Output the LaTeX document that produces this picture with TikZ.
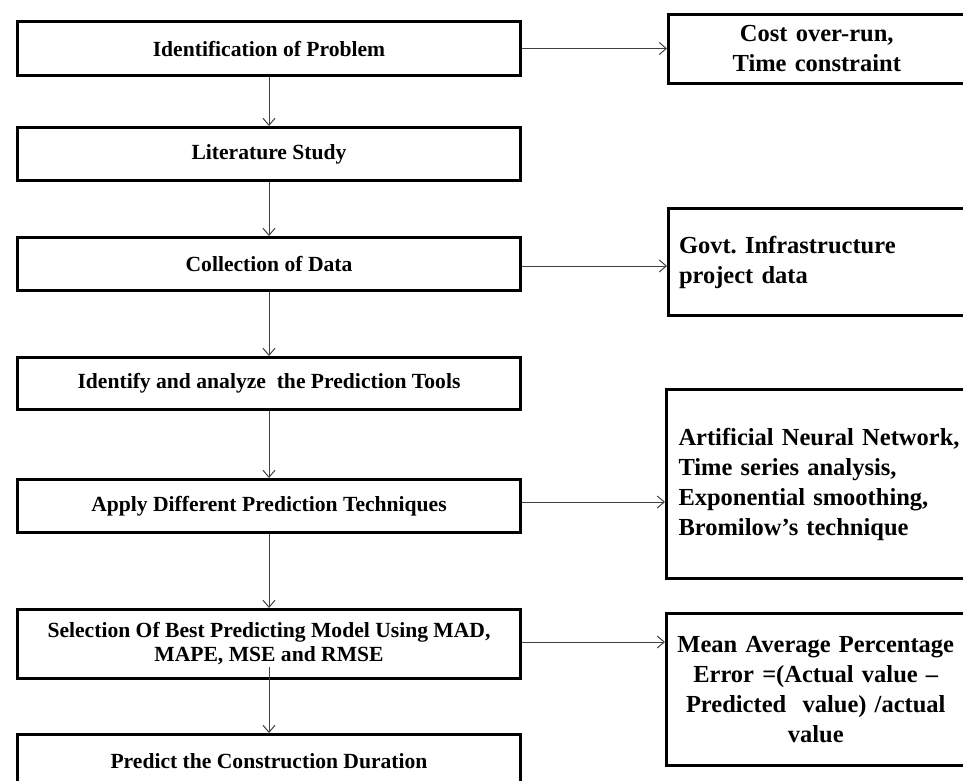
\documentclass[tikz,border=0pt]{standalone}
\usepackage{fontspec}
\setmainfont{Liberation Serif}
\usetikzlibrary{arrows.meta}
\tikzset{
  lbox/.style={draw=black, line width=3pt, minimum width=503pt, inner sep=2pt,
    align=center, font=\fontsize{21.6}{24}\selectfont\bfseries},
  rbox/.style={draw=black, line width=3pt, inner xsep=10.5pt, inner ysep=2pt,
    font=\fontsize{24.5}{30}\selectfont\bfseries},
  conn/.style={draw=black!75, line width=1pt, -{Straight Barb[length=7pt,width=12pt]}}
}
\begin{document}
\begin{tikzpicture}[x=1pt,y=-1pt]
\clip (0,0) rectangle (963,780);
\fill[white] (0,0) rectangle (963,780);
% left column
\node[lbox, minimum height=54pt] (b1) at (269,48.5) {Identification of Problem};
\node[lbox, minimum height=53pt] (b2) at (269,154) {Literature Study};
\node[lbox, minimum height=53pt] (b3) at (269,264) {Collection of Data};
\node[lbox, minimum height=52pt] (b4) at (269,383.5) {Identify and analyze \ the Prediction Tools};
\node[lbox, minimum height=53pt] (b5) at (269,506) {Apply Different Prediction Techniques};
\node[lbox, minimum height=69pt] (b6) at (269,644) {Selection Of Best Predicting Model Using MAD,\\MAPE, MSE and RMSE};
\node[lbox, minimum height=54pt] (b7) at (269,761.5) {Predict the Construction Duration};
% right column
\node[rbox, minimum width=296.5pt, minimum height=69pt, text width=275.5pt, align=center] (r1) at (816.75,49) {Cost over-run,\\Time constraint};
\node[rbox, anchor=west, minimum height=107pt, text width=300pt, align=left] (r2) at (667,262) {Govt.\ Infrastructure\\project data};
\node[rbox, anchor=west, minimum height=189pt, text width=300pt, align=left, inner xsep=12pt] (r3) at (665,484) {Artificial Neural Network,\\Time series analysis,\\Exponential smoothing,\\Bromilow’s technique};
\node[rbox, minimum width=298.5pt, minimum height=152pt, text width=277.5pt, align=center] (r4) at (815.75,689.5) {Mean Average Percentage\\Error =(Actual value –\\Predicted \ value) /actual\\value};
% vertical connectors
\draw[conn] (b1.south) -- (b2.north);
\draw[conn] (b2.south) -- (b3.north);
\draw[conn] (b3.south) -- (b4.north);
\draw[conn] (b4.south) -- (b5.north);
\draw[conn] (b5.south) -- (b6.north);
\draw[conn] ([yshift=13pt]b6.south) -- (b7.north);
% horizontal connectors
\draw[conn] (b1.east) -- (b1.east -| r1.west);
\draw[conn] ([yshift=-2pt]b3.east) -- ([yshift=-2pt]b3.east -| r2.west);
\draw[conn] ([yshift=4pt]b5.east) -- ([yshift=4pt]b5.east -| r3.west);
\draw[conn] ([yshift=2pt]b6.east) -- ([yshift=2pt]b6.east -| r4.west);
\end{tikzpicture}
\end{document}
